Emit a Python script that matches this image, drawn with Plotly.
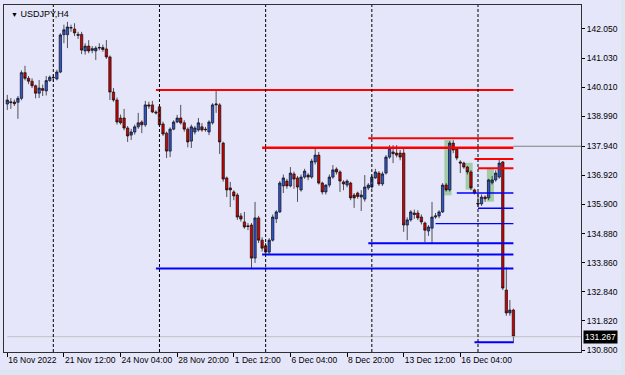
import pandas as pd
import plotly.graph_objects as go

# ---------------- data ----------------
# H4 bar times (broker time), Mon-Fri only
_t = []
_cur = pd.Timestamp("2022-11-16 20:00")
while len(_t) < 144:
    if _cur.weekday() < 5:
        _t.append(_cur.strftime("%Y-%m-%d %H:%M"))
    _cur += pd.Timedelta(hours=4)
bar_times = _t

opens = [139.42, 139.50, 139.49, 139.48, 139.62, 140.52, 140.32, 140.22, 140.06, 139.80,
         139.96, 139.88, 140.24, 140.34, 140.30, 140.54, 141.85, 141.85, 142.08, 142.05,
         141.86, 141.86, 141.28, 141.45, 141.30, 141.28, 141.38, 141.40, 141.35, 141.07,
         139.84, 139.56, 138.93, 138.93, 138.58, 138.33, 138.44, 138.62, 138.79, 138.69,
         139.39, 139.39, 139.14, 139.32, 138.72, 138.40, 137.77, 138.54, 138.79, 138.93,
         138.76, 138.54, 138.12, 138.44, 138.51, 138.62, 138.54, 138.44, 138.76, 139.39,
         139.39, 138.05, 136.83, 136.48, 136.34, 136.23, 135.50, 135.29, 135.15, 135.18,
         134.02, 135.43, 134.65, 134.45, 134.23, 134.65, 135.40, 135.64, 136.55, 136.72,
         136.55, 136.97, 136.83, 136.41, 136.86, 136.93, 136.86, 137.39, 137.63, 136.65,
         136.34, 136.58, 136.86, 137.14, 137.04, 136.69, 136.58, 136.65, 136.23, 136.30,
         136.16, 136.09, 136.48, 136.51, 136.83, 137.00, 136.62, 137.00, 137.56, 137.74,
         137.70, 137.70, 137.70, 135.18, 135.36, 135.60, 135.60, 135.46, 135.25, 134.97,
         135.07, 135.46, 135.50, 135.64, 136.58, 136.41, 138.05, 137.84, 137.39, 137.35,
         137.21, 137.04, 136.41, 135.95, 135.92, 136.16, 136.13, 136.66, 136.76, 136.86,
         137.39, 132.90, 132.10, 132.20]
highs = [139.74, 139.63, 139.58, 139.70, 140.60, 140.76, 140.40, 140.32, 140.10, 140.26,
         140.10, 140.40, 140.42, 140.45, 140.62, 141.90, 142.20, 142.30, 142.20, 142.25,
         141.95, 141.95, 141.55, 141.66, 141.45, 141.45, 141.55, 141.50, 141.66, 141.12,
         139.98, 139.65, 139.05, 139.25, 138.65, 138.55, 138.70, 139.11, 138.85, 139.53,
         139.50, 139.53, 139.20, 139.40, 138.80, 138.45, 138.60, 138.85, 139.04, 139.39,
         138.85, 138.60, 138.70, 138.65, 138.93, 138.75, 138.62, 138.85, 139.45, 139.88,
         139.45, 138.10, 136.88, 136.69, 136.40, 136.30, 135.60, 135.64, 135.25, 135.25,
         135.99, 135.50, 134.75, 134.55, 134.72, 135.55, 135.70, 136.72, 136.95, 136.80,
         137.21, 137.05, 136.90, 136.95, 137.15, 137.00, 137.50, 137.88, 137.74, 136.70,
         136.60, 136.95, 137.28, 137.20, 137.10, 136.75, 136.78, 136.70, 136.30, 136.35,
         136.40, 136.93, 136.65, 136.95, 137.15, 137.07, 137.05, 137.63, 137.98, 137.98,
         137.98, 137.81, 137.88, 135.45, 135.70, 135.72, 135.70, 135.55, 135.30, 135.18,
         135.99, 135.60, 135.70, 136.65, 136.65, 138.12, 138.16, 137.90, 137.45, 137.40,
         137.25, 137.10, 136.45, 136.30, 136.25, 136.22, 136.80, 136.90, 137.10, 137.46,
         137.42, 133.70, 132.55, 132.25]
lows = [139.21, 139.25, 139.35, 138.90, 139.55, 140.25, 140.12, 139.98, 139.62, 139.63,
        139.70, 139.72, 140.20, 140.20, 140.25, 140.50, 141.55, 141.38, 141.95, 141.80,
        141.70, 141.17, 141.15, 141.20, 141.20, 140.96, 141.30, 141.25, 141.00, 139.56,
        139.50, 138.70, 138.70, 138.50, 138.09, 138.16, 138.35, 138.55, 138.40, 138.62,
        139.25, 139.10, 139.05, 138.62, 138.30, 137.53, 137.56, 138.50, 138.75, 138.70,
        138.45, 137.90, 137.88, 138.35, 138.45, 138.45, 138.45, 138.33, 138.70, 139.11,
        137.67, 136.70, 136.16, 135.81, 136.05, 135.36, 135.30, 135.05, 135.00, 133.67,
        133.85, 134.55, 134.25, 134.15, 134.15, 134.60, 135.25, 135.60, 136.30, 136.45,
        136.50, 136.45, 135.99, 136.35, 136.80, 136.75, 136.80, 137.30, 136.60, 136.25,
        136.25, 136.50, 136.80, 136.95, 136.34, 136.40, 136.50, 136.05, 135.78, 136.10,
        135.67, 136.00, 136.40, 136.45, 136.80, 136.55, 136.55, 136.95, 137.50, 137.35,
        137.55, 137.45, 134.94, 134.65, 135.30, 135.40, 135.35, 135.20, 134.58, 134.80,
        134.55, 135.40, 135.42, 135.60, 136.35, 136.35, 137.70, 137.45, 137.00, 137.15,
        136.95, 136.40, 136.25, 135.81, 135.85, 135.99, 136.05, 136.60, 136.70, 136.80,
        132.90, 132.00, 132.00, 131.04]
closes = [139.56, 139.47, 139.43, 139.62, 140.52, 140.32, 140.22, 140.06, 139.80, 139.98,
          139.90, 140.24, 140.36, 140.35, 140.54, 141.84, 142.02, 142.12, 142.10, 141.91,
          141.83, 141.31, 141.45, 141.28, 141.36, 141.38, 141.40, 141.33, 141.07, 139.84,
          139.56, 138.79, 138.76, 138.58, 138.30, 138.44, 138.62, 138.76, 138.69, 139.39,
          139.35, 139.14, 139.11, 138.69, 138.37, 137.77, 138.54, 138.79, 138.93, 138.76,
          138.54, 138.09, 138.62, 138.58, 138.76, 138.51, 138.52, 138.79, 139.39, 139.42,
          138.09, 136.79, 136.41, 136.41, 136.20, 135.46, 135.39, 135.11, 135.13, 134.02,
          135.43, 134.65, 134.37, 134.23, 134.65, 135.46, 135.64, 136.65, 136.83, 136.55,
          137.00, 136.79, 136.51, 136.86, 137.07, 136.86, 137.42, 137.63, 136.65, 136.34,
          136.58, 136.86, 137.11, 137.04, 136.72, 136.62, 136.72, 136.13, 136.13, 136.18,
          136.23, 136.51, 136.58, 136.86, 137.04, 136.62, 136.97, 137.56, 137.88, 137.68,
          137.63, 137.56, 135.18, 135.36, 135.64, 135.55, 135.43, 135.29, 135.00, 135.11,
          135.46, 135.50, 135.64, 136.58, 136.41, 138.05, 137.81, 137.53, 137.35, 137.21,
          137.04, 136.48, 136.30, 135.92, 136.16, 136.10, 136.76, 136.76, 137.00, 137.35,
          132.97, 132.10, 132.20, 131.267]

last_price = 131.267

# support / resistance levels
red_levels = [139.91, 138.22, 137.89, 137.49, 137.17]
red_starts = [42, 102, 72, 132, 133]
red_widths = [2, 2, 2.5, 2, 2]
blue_levels = [133.66, 134.15, 134.54, 135.23, 136.30, 135.77, 131.07]
blue_starts = [42, 72, 102, 121, 127, 133, 132]
blue_widths = [2, 2, 2, 1.4, 1.4, 1.4, 2]
grey_ray_level = 137.94

# highlight zones (first bar, last bar, low, high)
zone_first = [124, 130, 136]
zone_last = [125, 131, 137]
zone_low = [136.22, 136.42, 136.00]
zone_high = [138.16, 137.36, 137.15]

# week separators (Monday 00:00 bars)
separator_bars = [13, 43, 73, 103, 133]

# axis labels
x_tick_bars = [0, 16, 32, 48, 64, 80, 96, 112, 128]
x_tick_text = ["16 Nov 2022", "21 Nov 12:00", "24 Nov 04:00", "28 Nov 20:00", "1 Dec 12:00",
               "6 Dec 04:00", "8 Dec 20:00", "13 Dec 12:00", "16 Dec 04:00"]
y_tick_vals = [142.050, 141.030, 140.010, 138.990, 137.940, 136.920, 135.900,
               134.880, 133.860, 132.840, 131.820, 130.800]
y_tick_text = [f"{v:.3f}" for v in y_tick_vals]

# ---------------- figure ----------------
BG = "#E6E6FA"
FONT = "Liberation Sans, Arial, DejaVu Sans"
last_bar = bar_times[-1]

fig = go.Figure()

fig.add_trace(go.Candlestick(
    x=bar_times, open=opens, high=highs, low=lows, close=closes,
    increasing=dict(line=dict(color="#101010", width=0.7), fillcolor="#2F55D0"),
    decreasing=dict(line=dict(color="#101010", width=0.7), fillcolor="#D00000"),
    whiskerwidth=0, showlegend=False, hoverinfo="skip",
))

# bid line
fig.add_trace(go.Scatter(x=[bar_times[0], last_bar], y=[last_price, last_price], mode="lines",
                         line=dict(color="#C0C0C8", width=1), showlegend=False, hoverinfo="skip"))

for lvl, st, w in zip(red_levels, red_starts, red_widths):
    fig.add_trace(go.Scatter(x=[bar_times[st], last_bar], y=[lvl, lvl], mode="lines",
                             line=dict(color="#FF0000", width=w), showlegend=False, hoverinfo="skip"))
for lvl, st, w in zip(blue_levels, blue_starts, blue_widths):
    fig.add_trace(go.Scatter(x=[bar_times[st], last_bar], y=[lvl, lvl], mode="lines",
                             line=dict(color="#0000FF", width=w), showlegend=False, hoverinfo="skip"))

shapes = []
shapes.append(dict(type="line", xref="x", yref="y", x0=len(bar_times) - 1, x1=175,
                   y0=last_price, y1=last_price, line=dict(color="#C0C0C8", width=1)))
shapes.append(dict(type="line", xref="x", yref="y", x0=len(bar_times) - 1, x1=175,
                   y0=grey_ray_level, y1=grey_ray_level, line=dict(color="#808080", width=1)))
for b in separator_bars:
    shapes.append(dict(type="line", xref="x", yref="paper", x0=b, x1=b, y0=0, y1=1,
                       line=dict(color="#000000", width=1, dash="3px,2px"), layer="above"))
for a, b, lo, hi in zip(zone_first, zone_last, zone_low, zone_high):
    shapes.append(dict(type="rect", xref="x", yref="y", x0=a - 0.5, x1=b + 0.5, y0=lo, y1=hi,
                       fillcolor="rgba(110,180,100,0.55)", line=dict(width=0), layer="below"))
shapes.append(dict(type="rect", xref="paper", yref="paper", x0=-0.02, x1=1.1,
                   y0=-(375 - 352) / 347.0, y1=-(370 - 352) / 347.0,
                   fillcolor="#DCE6F2", line=dict(width=0), layer="below"))
shapes.append(dict(type="rect", xref="paper", yref="paper", x0=(621 - 4) / 577.0, x1=1.1,
                   y0=-0.1, y1=1.05, fillcolor="#DCE6F2", line=dict(width=0), layer="below"))

annotations = [
    dict(xref="paper", yref="paper", x=0, y=1, xanchor="left", yanchor="top",
         xshift=5, yshift=-2, showarrow=False,
         text="<span style='font-size:7px'>▼</span> USDJPY,H4",
         font=dict(family=FONT, size=9, color="#000000")),
    dict(xref="paper", yref="y", x=1, y=last_price, xanchor="left", yanchor="middle",
         xshift=2, showarrow=False, text=f"{last_price:.3f}", bgcolor="#000000",
         borderpad=1, font=dict(family=FONT, size=8.5, color="#FFFFFF")),
]

fig.update_layout(
    width=625, height=375,
    margin=dict(l=4, r=44, t=5, b=23, autoexpand=False),
    paper_bgcolor=BG, plot_bgcolor=BG,
    shapes=shapes, annotations=annotations,
    font=dict(family=FONT, size=8.5, color="#000000"),
    showlegend=False, boxgap=0.05,
    xaxis=dict(
        type="category", range=[-0.93, 162.1], rangeslider=dict(visible=False),
        showgrid=False, zeroline=False, automargin=False, tickangle=0,
        tickmode="array", tickvals=[bar_times[i] for i in x_tick_bars], ticktext=x_tick_text,
        ticks="outside", ticklen=4, tickcolor="#000000", ticklabelposition="outside right",
        tickfont=dict(family=FONT, size=8.5, color="#000000"),
        showline=True, linecolor="#303030", linewidth=1, mirror=True,
    ),
    yaxis=dict(
        side="right", range=[130.73, 142.89], showgrid=False, zeroline=False, automargin=False,
        tickmode="array", tickvals=y_tick_vals, ticktext=y_tick_text,
        ticks="outside", ticklen=3, tickcolor="#000000",
        tickfont=dict(family=FONT, size=8.5, color="#000000"),
        showline=True, linecolor="#303030", linewidth=1, mirror=True,
    ),
)

fig.write_html("out.html")
